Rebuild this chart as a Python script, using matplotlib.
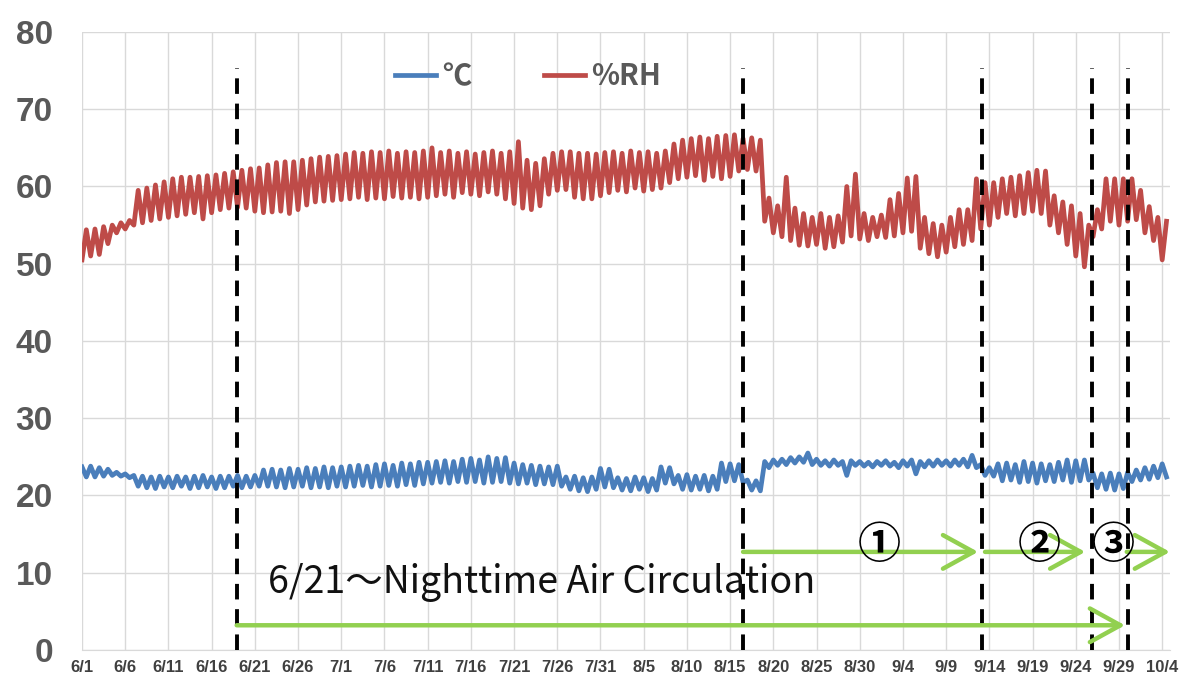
import numpy as np
import matplotlib.pyplot as plt

# day index 0 = 6/1 ... 125 = 10/4
date_labels = ['6/1', '6/6', '6/11', '6/16', '6/21', '6/26', '7/1', '7/6', '7/11',
               '7/16', '7/21', '7/26', '7/31', '8/5', '8/10', '8/15', '8/20', '8/25',
               '8/30', '9/4', '9/9', '9/14', '9/19', '9/24', '9/29', '10/4']

# daily max / min of relative humidity (%RH)
rh_hi = [54.4, 54.5, 54.8, 55.0, 55.3, 55.6, 59.5, 59.8, 60.2, 60.6,
         61.0, 61.2, 61.2, 61.3, 61.4, 61.5, 61.7, 61.9, 62.1, 62.3,
         62.4, 62.8, 63.1, 63.2, 63.2, 63.4, 63.6, 63.8, 63.9, 64.0,
         64.2, 64.4, 64.3, 64.5, 64.4, 64.6, 64.3, 64.5, 64.4, 64.6,
         65.0, 64.4, 64.6, 64.3, 64.5, 64.2, 64.4, 64.6, 64.3, 64.5,
         65.8, 63.4, 63.0, 63.6, 64.3, 64.5, 64.5, 64.3, 64.3, 64.2,
         64.4, 64.5, 64.3, 64.6, 64.4, 64.5, 64.3, 64.6, 65.5, 66.0,
         66.2, 66.4, 66.2, 66.5, 66.6, 66.7, 66.2, 66.3, 66.0, 58.5,
         57.5, 61.2, 57.2, 56.5, 56.0, 56.5, 56.0, 56.2, 60.0, 61.6,
         56.5, 56.0, 56.3, 58.3, 59.1, 61.1, 61.3, 56.0, 55.2, 55.0,
         56.0, 57.0, 57.0, 61.0, 60.5, 60.5, 61.0, 61.2, 61.4, 61.8,
         62.1, 62.0, 58.8, 58.0, 57.5, 56.5, 55.0, 57.0, 61.0, 61.0,
         61.0, 61.0, 59.5, 57.4, 56.0, 55.5]
rh_lo = [50.5, 51.0, 51.2, 52.6, 54.0, 54.5, 55.0, 55.3, 55.6, 55.8,
         56.0, 56.2, 56.4, 56.6, 55.8, 56.6, 57.0, 57.2, 57.3, 57.2,
         56.8, 56.6, 56.7, 56.8, 56.5, 57.0, 57.6, 58.0, 58.1, 58.2,
         58.3, 58.4, 58.6, 58.3, 58.5, 58.4, 58.7, 58.5, 58.6, 58.4,
         58.6, 58.8, 59.0, 58.6, 59.2, 59.0, 58.8, 59.3, 59.0, 58.4,
         57.8, 57.2, 57.0, 57.5, 59.0, 59.5, 59.6, 58.6, 58.4, 58.4,
         58.8, 59.2, 59.5, 59.3, 59.8, 59.4, 59.6, 59.8, 60.5, 61.0,
         61.2, 61.4, 60.8, 61.3, 61.0, 61.3, 62.0, 62.2, 62.0, 55.5,
         54.0, 53.5, 53.0, 52.4, 52.3, 52.5, 52.0, 52.2, 52.8, 53.6,
         53.2, 53.0, 53.5, 53.4, 53.6, 54.0, 54.2, 52.0, 51.3, 50.9,
         51.5, 52.2, 52.5, 53.0, 54.5, 55.0, 56.0, 56.5, 56.2, 56.5,
         56.8, 56.5, 55.0, 54.0, 52.5, 51.0, 49.6, 53.5, 54.5, 55.5,
         55.0, 55.5, 55.7, 54.0, 53.0, 50.5]

# daily max / min of temperature (deg C)
t_hi = [23.7, 23.8, 23.6, 23.4, 23.0, 22.8, 22.6, 22.5, 22.4, 22.5,
        22.4, 22.5, 22.4, 22.5, 22.6, 22.4, 22.5, 22.5, 22.6, 22.5,
        22.6, 23.3, 23.4, 23.3, 23.5, 23.4, 23.6, 23.5, 23.7, 23.6,
        23.7, 23.8, 23.9, 23.8, 24.0, 24.1, 23.9, 24.2, 24.1, 24.3,
        24.3, 24.4, 24.5, 24.4, 24.7, 24.8, 24.6, 25.0, 24.8, 24.9,
        24.2, 24.0, 23.9, 23.8, 23.7, 23.8, 22.4, 22.5, 22.3, 22.4,
        23.5, 23.4, 22.3, 22.2, 22.4, 22.3, 22.2, 23.7, 23.6, 22.6,
        22.7, 22.5, 22.6, 22.5, 24.2, 24.1, 24.0, 22.0, 21.9, 24.4,
        24.6, 24.7, 24.9, 25.0, 25.5, 24.7, 24.5, 24.6, 24.4, 24.5,
        24.4, 24.3, 24.4, 24.5, 24.3, 24.5, 24.6, 24.4, 24.5, 24.6,
        24.5, 24.6, 24.7, 25.2, 24.0, 23.6, 24.1, 24.2, 24.0, 24.4,
        24.2, 24.1, 24.0, 24.3, 24.6, 24.5, 24.6, 22.9, 22.8, 22.9,
        22.8, 23.0, 23.3, 23.6, 23.8, 24.1]
t_lo = [22.4, 22.4, 22.5, 22.6, 22.5, 22.3, 21.2, 21.0, 20.9, 21.1,
        21.0, 21.2, 20.9, 21.0, 21.1, 20.9, 21.0, 21.2, 21.0, 21.1,
        21.2, 21.2, 21.1, 21.0, 21.1, 21.2, 21.0, 21.1, 21.0, 21.2,
        21.1, 21.2, 21.3, 21.1, 21.2, 21.3, 21.2, 21.4, 21.3, 21.5,
        21.6, 21.7, 21.6, 21.8, 21.7, 21.8, 21.6, 21.7, 21.8, 21.6,
        21.5, 21.6, 21.4, 21.5, 21.4, 21.2, 20.8, 20.6, 20.5, 20.8,
        21.1, 21.0, 20.7, 20.6, 20.8, 20.5, 20.7, 21.6, 21.5, 20.8,
        20.7, 20.8, 20.6, 20.8, 21.8, 21.9, 21.7, 20.7, 20.6, 23.6,
        23.9, 24.0, 24.2, 24.3, 24.0, 23.9, 23.8, 23.9, 22.6, 23.9,
        23.8, 23.7, 23.9, 23.8, 23.6, 23.8, 22.8, 23.7, 23.8, 23.9,
        23.8, 23.9, 23.7, 23.6, 22.6, 22.5, 21.9, 22.0, 21.7, 21.8,
        21.6, 21.9, 21.8, 22.0, 21.7, 21.9, 22.0, 21.0, 20.8, 20.7,
        20.9, 21.8, 22.0, 22.1, 22.3, 22.4]

# event markers (day index) and arrows: (start, end, y)
event_days = [17.9, 76.5, 104.2, 116.9, 121.1]
arrows = [(17.9, 120.7, 3.2), (76.5, 103.7, 12.7), (104.5, 116.1, 12.7), (120.9, 125.9, 12.7)]
phase_labels = [('①', 92.3, 13.6), ('②', 110.8, 13.6), ('③', 119.3, 13.6)]

BLUE = '#4a7ebb'
RED = '#be4b48'
GREEN = '#92d050'

fig = plt.figure(figsize=(11.8, 6.85), dpi=100)
ax = fig.add_axes([0.0695, 0.0511, 0.922, 0.9022])

days = np.arange(len(rh_hi))
# two readings per day
x = np.column_stack([days, days + 0.5]).ravel()
rh = np.column_stack([rh_lo, rh_hi]).ravel()
temp = np.column_stack([t_hi, t_lo]).ravel()

ax.plot(x, temp, color=BLUE, lw=3.4, label='℃', solid_joinstyle='round')
ax.plot(x, rh, color=RED, lw=3.4, label='%RH', solid_joinstyle='round')

for d in event_days:
    ax.plot([d, d], [0, 75.3], color='black', lw=2.8, dashes=(4, 2.5), zorder=4)

for x0, x1, yy in arrows:
    ax.annotate('', xy=(x1, yy), xytext=(x0, yy),
                arrowprops=dict(arrowstyle='->,head_length=0.4,head_width=0.22',
                                color=GREEN, lw=3.2, mutation_scale=55,
                                shrinkA=0, shrinkB=0), zorder=5)

for s, px, py in phase_labels:
    ax.text(px, py, s, fontsize=31, ha='center', va='center', fontweight='bold',
            family=['Noto Sans CJK JP', 'DejaVu Sans'], color='black', zorder=6)

ax.text(21.5, 8.8, '6/21〜Nighttime Air Circulation', fontsize=27, ha='left', va='center',
        family=['Noto Sans CJK JP', 'DejaVu Sans'], color='#111111', zorder=6)

ax.set_xlim(0, 125.9)
ax.set_ylim(0, 80)
ax.set_xticks(np.arange(0, 126, 5))
ax.set_xticklabels(date_labels, fontsize=12, fontweight='bold', color='#404040',
                   family='Liberation Sans')
ax.set_yticks(np.arange(0, 81, 10))
ax.set_yticklabels([str(v) for v in range(0, 81, 10)], fontsize=24, fontweight='bold',
                   color='#595959', family='Liberation Sans')
ax.tick_params(length=0)
ax.tick_params(axis='x', pad=7)
ax.tick_params(axis='y', pad=21)
ax.grid(True, color='#d9d9d9', lw=1)
ax.set_axisbelow(True)
for side in ['left', 'right', 'top']:
    ax.spines[side].set_visible(False)
ax.spines['bottom'].set_color('#d9d9d9')

leg = ax.legend(loc='upper center', bbox_to_anchor=(0.41, 0.995), ncol=2, frameon=False,
                handlelength=1.4, handletextpad=0.2, columnspacing=2.5,
                prop={'family': ['Noto Sans CJK JP', 'DejaVu Sans'], 'weight': 'bold', 'size': 21})
for t in leg.get_texts():
    t.set_color('#595959')

fig.savefig('out.png', dpi=100)
